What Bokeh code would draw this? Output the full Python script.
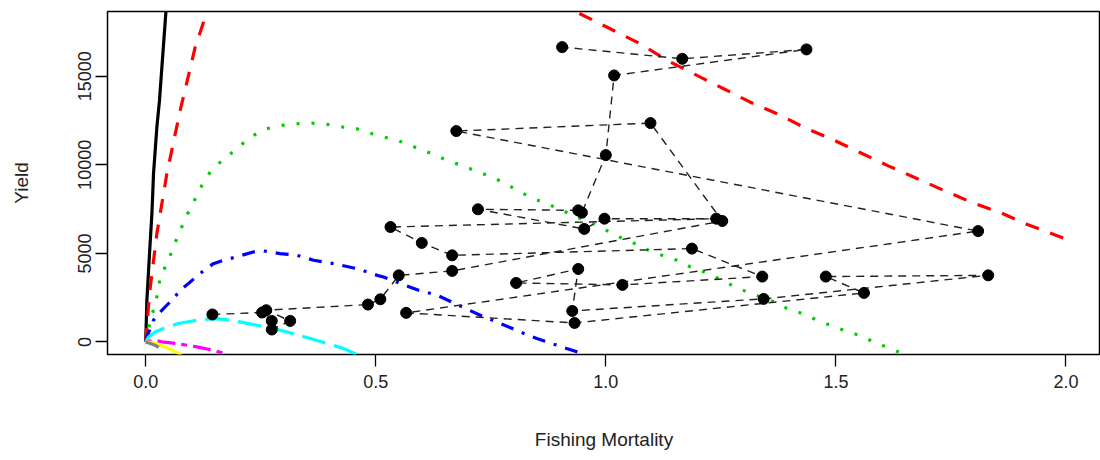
from bokeh.plotting import figure
from bokeh.models import Range1d, FixedTicker, NumeralTickFormatter
from bokeh.embed import file_html
from bokeh.resources import INLINE

# Observed series (in year order)
obs_F = [0.145, 0.253, 0.274, 0.274, 0.314, 0.262, 0.483, 0.510, 0.550, 0.666,
         1.253, 1.097, 0.675, 1.809, 0.566, 0.932, 1.561, 1.478, 1.831, 1.343,
         0.927, 0.940, 0.805, 1.036, 1.340, 1.187, 0.666, 0.600, 0.532, 1.240,
         0.997, 0.953, 0.722, 0.940, 0.948, 1.000, 1.018, 1.436, 1.166, 0.905]
obs_Y = [1550, 1660, 1185, 700, 1185, 1790, 2110, 2410, 3760, 4010,
         6830, 12360, 11910, 6260, 1640, 1070, 2765, 3690, 3760, 2430,
         1750, 4120, 3330, 3220, 3690, 5270, 4890, 5590, 6490, 6960,
         6960, 6380, 7490, 7430, 7300, 10550, 15050, 16520, 15990, 16650]

# Equilibrium yield curves
c1_F = [0.0, 0.0026, 0.0083, 0.0135, 0.017, 0.0243, 0.030, 0.0352, 0.0439, 0.048]
c1_Y = [0, 2350, 4990, 7250, 9500, 12130, 13640, 15520, 18620, 20500]

c2_F = [0.0, 0.0083, 0.0243, 0.046, 0.075, 0.1076, 0.133, 0.2, 0.35, 0.55, 0.75,
        0.937, 1.017, 1.075, 1.133, 1.198, 1.256, 1.314, 1.372, 1.437, 1.497,
        1.558, 1.615, 1.677, 1.734, 1.796, 1.858, 1.916, 1.988, 2.0]
c2_Y = [0, 2730, 6120, 9500, 13080, 16650, 18620, 23500, 26500, 26000, 21500,
        18620, 17590, 16840, 15900, 15050, 14300, 13540, 12890, 12040, 11380,
        10630, 9930, 9220, 8560, 7870, 7300, 6630, 5930, 5800]

c3_F = [0.0, 0.008, 0.026, 0.0315, 0.0496, 0.060, 0.075, 0.093, 0.1076, 0.122, 0.140,
        0.166, 0.198, 0.227, 0.263, 0.296, 0.329, 0.361, 0.394, 0.430, 0.459,
        0.492, 0.524, 0.557, 0.593, 0.626, 0.655, 0.691, 0.723, 0.753, 0.782,
        0.814, 0.843, 0.872, 0.905, 0.937, 0.966, 0.995, 1.024, 1.060, 1.090,
        1.122, 1.155, 1.184, 1.213, 1.245, 1.274, 1.307, 1.336, 1.365, 1.394,
        1.427, 1.459, 1.488, 1.517, 1.550, 1.582, 1.618, 1.650]
c3_Y = [0, 940, 2730, 3670, 4610, 5360, 6300, 7340, 8090, 8840, 9590,
        10250, 10910, 11570, 12040, 12230, 12320, 12360, 12290, 12130, 12040,
        11760, 11530, 11290, 10910, 10590, 10250, 9930, 9590, 9310, 8940,
        8470, 8090, 7810, 7430, 7050, 6770, 6400, 5980, 5590, 5210,
        4890, 4610, 4230, 3950, 3580, 3200, 2820, 2540, 2260, 1890,
        1600, 1230, 940, 660, 380, 0, -370, -720]

c4_F = [0.0, 0.0026, 0.017, 0.0315, 0.053, 0.079, 0.093, 0.118, 0.147, 0.169, 0.191,
        0.234, 0.256, 0.292, 0.329, 0.365, 0.408, 0.459, 0.503, 0.517, 0.553,
        0.593, 0.633, 0.680, 0.727, 0.763, 0.814, 0.850, 0.894, 0.937, 0.955]
c4_Y = [0, 280, 1230, 1690, 2260, 3010, 3300, 3860, 4420, 4610, 4760,
        5080, 5140, 4990, 4890, 4610, 4420, 4140, 3760, 3670, 3300,
        2920, 2640, 2070, 1510, 1130, 560, 190, -190, -560, -720]

c5_F = [0.0, 0.006, 0.0207, 0.0387, 0.071, 0.111, 0.147, 0.176, 0.205, 0.242,
        0.278, 0.321, 0.358, 0.394, 0.430, 0.460]
c5_Y = [0, 280, 560, 760, 1040, 1230, 1320, 1260, 1130, 940,
        760, 470, 190, -90, -370, -720]

c6_F = [0.0, 0.02, 0.035, 0.068, 0.111, 0.147, 0.180]
c6_Y = [0, 90, 0, -90, -280, -470, -720]

c7_F = [0.0, 0.015, 0.03, 0.05, 0.078]
c7_Y = [0, -40, -150, -380, -720]

c8_F = [0.0, 0.01, 0.02, 0.028, 0.04]
c8_Y = [0, -90, -190, -300, -720]

curves = [
    (c1_F, c1_Y, "black", "solid"),
    (c2_F, c2_Y, "red", "14 12"),
    (c3_F, c3_Y, "#00CD00", "3 12"),
    (c4_F, c4_Y, "blue", "13 9 3 9"),
    (c5_F, c5_Y, "cyan", "24 9"),
    (c6_F, c6_Y, "magenta", "6 6 18 6"),
    (c7_F, c7_Y, "yellow", "solid"),
    (c8_F, c8_Y, "gray", "14 12"),
]

p = figure(width=1100, height=460, output_backend="svg", toolbar_location=None,
           x_range=Range1d(-0.083, 2.075), y_range=Range1d(-711, 18661),
           min_border_left=107, min_border_right=0, min_border_top=11,
           min_border_bottom=106)

p.background_fill_color = "white"
p.border_fill_color = "white"
p.outline_line_color = "black"
p.outline_line_width = 1.5
p.xgrid.visible = False
p.ygrid.visible = False

for fx, fy, col, dash in curves:
    p.line(fx, fy, line_color=col, line_width=3.2, line_dash=dash)

p.line(obs_F, obs_Y, line_color="#222222", line_width=1.4, line_dash="8 6")
p.scatter(obs_F, obs_Y, size=11, color="black")

p.xaxis.ticker = FixedTicker(ticks=[0, 0.5, 1.0, 1.5, 2.0])
p.xaxis.formatter = NumeralTickFormatter(format="0.0")
p.yaxis.ticker = FixedTicker(ticks=[0, 5000, 10000, 15000])
p.yaxis.formatter = NumeralTickFormatter(format="0")
p.yaxis.major_label_orientation = "vertical"

for ax in (p.xaxis[0], p.yaxis[0]):
    ax.axis_line_color = None
    ax.major_tick_line_color = "black"
    ax.major_tick_line_width = 1.3
    ax.major_tick_out = 12
    ax.major_tick_in = 0
    ax.minor_tick_line_color = None
    ax.major_label_text_font = "Liberation Sans"
    ax.major_label_text_font_size = "18px"
    ax.major_label_text_color = "#222222"
    ax.axis_label_text_font = "Liberation Sans"
    ax.axis_label_text_font_size = "19px"
    ax.axis_label_text_font_style = "normal"
    ax.axis_label_text_color = "#222222"

p.xaxis.axis_label = "Fishing Mortality"
p.yaxis.axis_label = "Yield"
p.xaxis.major_label_standoff = 8
p.xaxis.axis_label_standoff = 38
p.yaxis.major_label_standoff = 4
p.yaxis.axis_label_standoff = 44

open("out.html", "w").write(file_html(p, INLINE))
